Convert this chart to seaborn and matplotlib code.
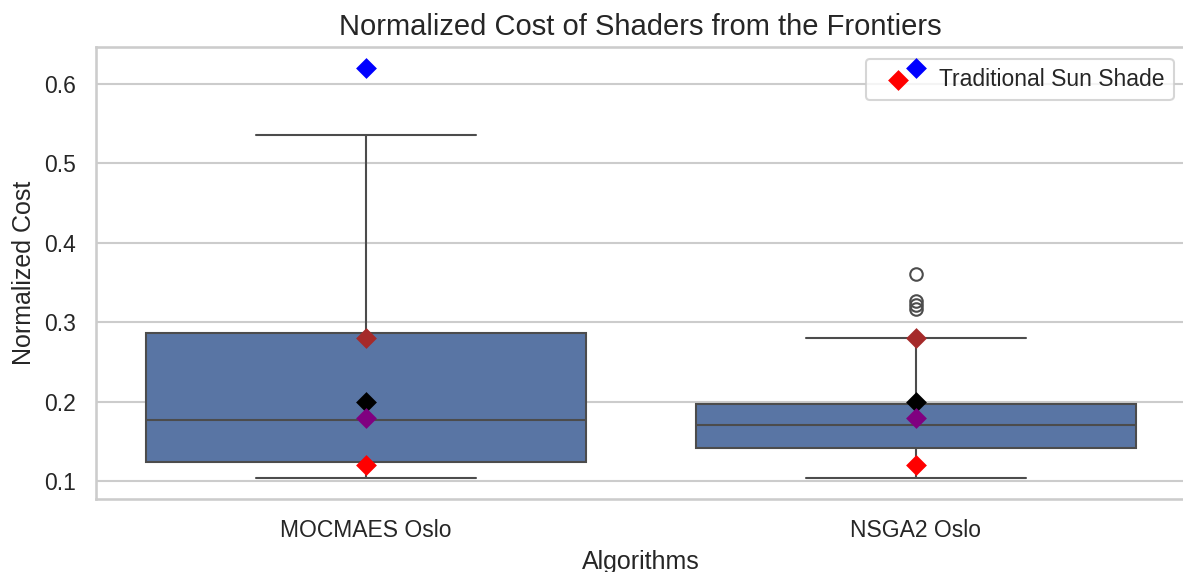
import matplotlib
matplotlib.use("Agg")
import pandas as pd
import matplotlib.pyplot as plt
import seaborn as sns

sns.set_theme(style="whitegrid")
plt.rcParams["font.family"] = ["Liberation Sans", "DejaVu Sans"]

# ── Data ────────────────────────────────────────────────────────────────────
algorithms = ["MOCMAES Oslo", "NSGA2 Oslo"]

# normalized cost of the shaders on each frontier
mocmaes_cost = [0.1034, 0.112, 0.1239, 0.150, 0.1766, 0.230, 0.2858, 0.410, 0.535]
nsga2_cost = [0.1034, 0.118, 0.128, 0.134, 0.139, 0.142, 0.149, 0.156, 0.162,
              0.167, 0.1707, 0.175, 0.181, 0.187, 0.193, 0.1975,
              0.2795, 0.317, 0.322, 0.327, 0.361]

# reference shades drawn on top of both boxes
ref_colors = ["blue", "brown", "black", "purple", "red"]
ref_costs = [0.62, 0.28, 0.20, 0.18, 0.12]
ref_labels = [None, None, None, None, "Traditional Sun Shade"]

df = pd.DataFrame({
    "Algorithm": [algorithms[0]] * len(mocmaes_cost) + [algorithms[1]] * len(nsga2_cost),
    "Cost": mocmaes_cost + nsga2_cost,
})

# ── Plot ────────────────────────────────────────────────────────────────────
fig = plt.figure(figsize=(1183 / 150, 572 / 150), dpi=150)
ax = fig.add_axes([96 / 1183, 73 / 572, 1089 / 1183, 451.7 / 572])

sns.boxplot(data=df, x="Algorithm", y="Cost", order=algorithms, whis=1.6, ax=ax)

for c, v, lab in zip(ref_colors, ref_costs, ref_labels):
    sns.scatterplot(x=algorithms, y=[v] * len(algorithms), color=c, marker="D",
                    s=50, linewidth=0, zorder=6,
                    label=lab if lab else "_nolegend_", ax=ax)

ax.set_xlim(-0.49, 1.49)
ax.set_title("Normalized Cost of Shaders from the Frontiers", fontsize=14)
ax.set_xlabel("Algorithms")
ax.set_ylabel("Normalized Cost")
ax.legend(loc="upper right")

fig.savefig("out.png", dpi=150)
